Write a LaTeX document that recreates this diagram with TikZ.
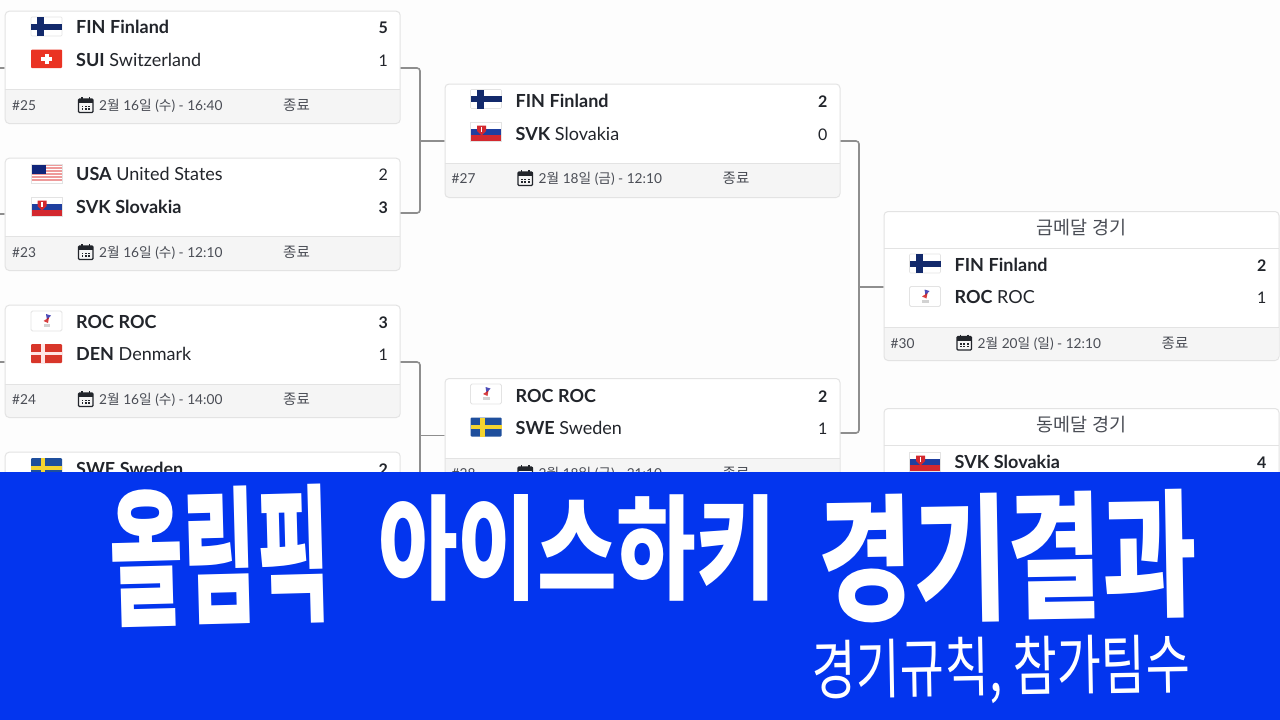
\documentclass[tikz,border=0pt]{standalone}
\usepackage{fontspec}
\setmainfont{Lato}
\newfontfamily\kr{Noto Sans CJK KR}
\definecolor{pagebg}{HTML}{FDFDFD}
\definecolor{cardline}{HTML}{E3E3E3}
\definecolor{footbg}{HTML}{F5F5F5}
\definecolor{conncol}{HTML}{8E8E8E}
\definecolor{ink}{HTML}{22252B}
\definecolor{soft}{HTML}{4A4D55}
\definecolor{band}{HTML}{0335EE}
\definecolor{navy}{HTML}{12296B}
\definecolor{redf}{HTML}{D8362A}
\definecolor{swered}{HTML}{EA3323}
\definecolor{blues}{HTML}{1F4F9C}
\definecolor{yels}{HTML}{F4D430}
\definecolor{skb}{HTML}{1F3F9F}
\definecolor{skr}{HTML}{D3282E}
\definecolor{usr}{HTML}{EE9A9A}
\tikzset{
  x=1pt,y=-1pt,
  cardbox/.style={draw=cardline,line width=1pt,rounded corners=4pt,minimum width=395pt,anchor=north west,inner sep=0pt},
  conn/.style={draw=conncol,line width=1.6pt,rounded corners=3pt},
  stub/.style={draw=conncol,line width=1.6pt},
  team/.style={anchor=base west,inner sep=0pt,font=\fontsize{18}{20}\selectfont,text=ink},
  score/.style={anchor=base east,inner sep=0pt,font=\fontsize{16}{20}\selectfont,text=ink},
  foot/.style={anchor=base west,inner sep=0pt,font=\fontsize{13.7}{16}\selectfont,text=soft},
  headt/.style={inner sep=0pt,font=\kr\fontsize{18.5}{22}\selectfont,text=soft},
  brush/.style={inner sep=0pt,text=white,font=\kr\bfseries\fontsize{80}{90}\selectfont},
}
% name, x, top, footer line, bottom
\newcommand{\cardshell}[5]{%
  \fill[white,rounded corners=4pt] (#2,#3) rectangle (#2+395,#5);
  \begin{scope}
    \clip[rounded corners=4pt] (#2,#3) rectangle (#2+395,#5);
    \fill[footbg] (#2,#4) rectangle (#2+395,#5);
  \end{scope}
  \draw[cardline,line width=1pt] (#2,#4) -- (#2+395,#4);
  \node[cardbox,minimum height=#5pt-#3pt] (#1) at (#2,#3) {};
}
\newcommand{\fin}{\fill[white] (0,0) rectangle (31,19); \draw[cardline,line width=.6pt,rounded corners=1pt] (0,0) rectangle (31,19); \fill[navy] (0,6.5) rectangle (31,12.5); \fill[navy] (6,0) rectangle (13,19);}
\newcommand{\sui}{\fill[swered,rounded corners=1pt] (0,0) rectangle (31,18.5); \fill[white] (13.5,4) rectangle (17.5,14.5); \fill[white] (10,7.5) rectangle (21,11);}
\newcommand{\usa}{\fill[white] (0,0) rectangle (31,19); \foreach \i in {0,3,6,9,12,15} {\fill[usr] (0,\i) rectangle (31,\i+1.7);} \fill[navy!90!blue] (0,0) rectangle (14.5,9.5); \draw[cardline,line width=.5pt] (0,0) rectangle (31,19);}
\newcommand{\svk}{\fill[white] (0,0) rectangle (31,6.5); \fill[skb] (0,6.5) rectangle (31,12.5); \fill[skr] (0,12.5) rectangle (31,19); \fill[skr] (6.5,3.5) -- (15.5,3.5) -- (15.5,9) -- (11,13.5) -- (6.5,9) -- cycle; \fill[white] (10.2,4.5) rectangle (11.8,9.5); \draw[cardline,line width=.5pt] (0,0) rectangle (31,19);}
\newcommand{\roc}{\fill[white] (0,0) rectangle (31,20); \draw[cardline,line width=.8pt,rounded corners=1.5pt] (0,0) rectangle (31,20); \fill[blue!60!black,opacity=.7] (15,3) -- (20,4.5) -- (16,9) -- cycle; \fill[red!80!black,opacity=.75] (12.5,10) -- (18,6.5) -- (17,12) -- cycle; \fill[gray!35] (12.5,13) rectangle (19,16);}
\newcommand{\den}{\fill[redf,rounded corners=1pt] (0,0) rectangle (31,19); \fill[white!90!red] (10,0) rectangle (13.5,19); \fill[white!90!red] (0,8) rectangle (31,11);}
\newcommand{\swe}{\fill[blues,rounded corners=1pt] (0,0) rectangle (31,19); \fill[yels] (9.5,0) rectangle (14,19); \fill[yels] (0,7.5) rectangle (31,11.5);}
% flag macro, x, y
\newcommand{\flagat}[3]{\begin{scope}[shift={(#2,#3)}]#1\end{scope}}
% x of card, baseline y of row, flag macro, flag top, code, name, score
\newcommand{\teamrow}[7]{%
  \flagat{#3}{#1+26}{#4}
  \node[team] (t#2#5) at (#1+71,#2) {\textbf{#5} #6};
  \node[score] (s#2#5) at (#1+383,#2) {#7};
}
\newcommand{\calicon}[2]{%
  \begin{scope}[shift={(#1,#2)}]
    \draw[ink,line width=1.3pt,rounded corners=1pt] (0,2) rectangle (14.5,15.5);
    \fill[ink] (0,2) rectangle (14.5,6);
    \draw[ink,line width=1.3pt] (3.5,0) -- (3.5,3) (11,0) -- (11,3);
    \foreach \a in {3,6.3,9.6} {\foreach \b in {8.5,11} {\fill[ink] (\a,\b) rectangle (\a+1.9,\b+1.7);}}
  \end{scope}}
% x of card, baseline, number, date
\newcommand{\footrow}[4]{%
  \node[foot] (n#3) at (#1+7,#2) {\##3};
  \calicon{#1+73.5}{#2-13.5}
  \node[foot] (d#3) at (#1+94,#2) {#4};
  \node[foot,font=\kr\fontsize{14.5}{16}\selectfont] (e#3) at (#1+278,#2) {종료};
}
\newcommand{\dt}[5]{#1{\kr 월} #2{\kr 일} ({\kr #3}) - #4:#5}
\begin{document}
\begin{tikzpicture}
\useasboundingbox (0,0) rectangle (1280,720);
\fill[pagebg] (0,0) rectangle (1280,720);

% connector points
\coordinate (s25) at (0,68); \coordinate (e25) at (5,68);
\coordinate (s23) at (0,214); \coordinate (e23) at (5,214);
\coordinate (s24) at (0,362); \coordinate (e24) at (5,362);
\coordinate (o25) at (400,68); \coordinate (o23) at (400,213);
\coordinate (o24) at (400,362); \coordinate (o26) at (400,510);
\coordinate (j1a) at (420,68); \coordinate (j1b) at (420,213);
\coordinate (j2a) at (420,362); \coordinate (j2b) at (420,510);
\coordinate (m1) at (420,141); \coordinate (i27) at (445,141);
\coordinate (m2) at (420,435.5); \coordinate (i28) at (445,435.5);
\coordinate (o27) at (840,141); \coordinate (o28) at (840,433);
\coordinate (j3a) at (859,141); \coordinate (j3b) at (859,433);
\coordinate (m3) at (859,287); \coordinate (i30) at (884,287);

\draw[stub] (s25) -- (e25);
\draw[stub] (s23) -- (e23);
\draw[stub] (s24) -- (e24);
\draw[conn] (o25) -- (j1a) -- (j1b) -- (o23);
\draw[conn] (o24) -- (j2a) -- (j2b) -- (o26);
\draw[stub] (m1) -- (i27);
\draw[stub] (m2) -- (i28);
\draw[conn] (o27) -- (j3a) -- (j3b) -- (o28);
\draw[stub] (m3) -- (i30);

% Round 1
\cardshell{c25}{4.7}{10.7}{89.5}{123}
\teamrow{5}{33.5}{\fin}{17}{FIN}{\textbf{Finland}}{\textbf{5}}
\teamrow{5}{66}{\sui}{49.5}{SUI}{Switzerland}{1}
\footrow{5}{110.5}{25}{\dt{2}{16}{수}{16}{40}}

\cardshell{c23}{4.7}{157.7}{236.5}{270}
\teamrow{5}{180.5}{\usa}{164}{USA}{United States}{2}
\teamrow{5}{213.5}{\svk}{197}{SVK}{\textbf{Slovakia}}{\textbf{3}}
\footrow{5}{257.5}{23}{\dt{2}{16}{수}{12}{10}}

\cardshell{c24}{4.7}{304.7}{384}{417}
\teamrow{5}{328.5}{\roc}{311}{ROC}{\textbf{ROC}}{\textbf{3}}
\teamrow{5}{360.5}{\den}{344}{DEN}{Denmark}{1}
\footrow{5}{404.5}{24}{\dt{2}{16}{수}{14}{00}}

\cardshell{c26}{4.7}{451.7}{530}{564}
\teamrow{5}{475.5}{\swe}{458}{SWE}{\textbf{Sweden}}{\textbf{2}}

% Round 2
\cardshell{c27}{444.5}{83.5}{163.5}{197}
\teamrow{444.5}{107.5}{\fin}{89.5}{FIN}{\textbf{Finland}}{\textbf{2}}
\teamrow{444.5}{140}{\svk}{122}{SVK}{Slovakia}{0}
\footrow{444.5}{183.5}{27}{\dt{2}{18}{금}{12}{10}}

\cardshell{c28}{444.5}{378}{458}{492}
\teamrow{444.5}{402.5}{\roc}{384}{ROC}{\textbf{ROC}}{\textbf{2}}
\teamrow{444.5}{434.5}{\swe}{417.5}{SWE}{Sweden}{1}
\footrow{444.5}{478.5}{28}{\dt{2}{18}{금}{21}{10}}

% Finals
\cardshell{c30}{883.5}{211}{327}{360}
\draw[cardline,line width=1pt] (883.5,248) -- (1278.5,248);
\node[headt] (h30) at (1081.5,228) {금메달 경기};
\teamrow{883.5}{271.5}{\fin}{254}{FIN}{\textbf{Finland}}{\textbf{2}}
\teamrow{883.5}{303.5}{\roc}{286.5}{ROC}{ROC}{1}
\footrow{883.5}{348}{30}{\dt{2}{20}{일}{12}{10}}

\cardshell{c29}{883.5}{408}{524}{557}
\draw[cardline,line width=1pt] (883.5,445) -- (1278.5,445);
\node[headt] (h29) at (1081.5,425) {동메달 경기};
\teamrow{883.5}{468.5}{\svk}{452}{SVK}{\textbf{Slovakia}}{\textbf{4}}

% Banner
\fill[band] (0,472) rectangle (1280,720);
\node[brush,rotate=1.5] (w1) at (220,556) {\resizebox{220pt}{125pt}{올림픽}};
\node[brush] (w2) at (577,548) {\resizebox{398pt}{96pt}{아이스하키}};
\node[brush,rotate=1] (w3) at (1008,557) {\resizebox{378pt}{116pt}{경기결과}};
\node[brush,rotate=1,font=\kr\fontsize{40}{46}\selectfont] (w4) at (1001,670) {\resizebox{378pt}{54pt}{경기규칙, 참가팀수}};
\end{tikzpicture}
\end{document}
